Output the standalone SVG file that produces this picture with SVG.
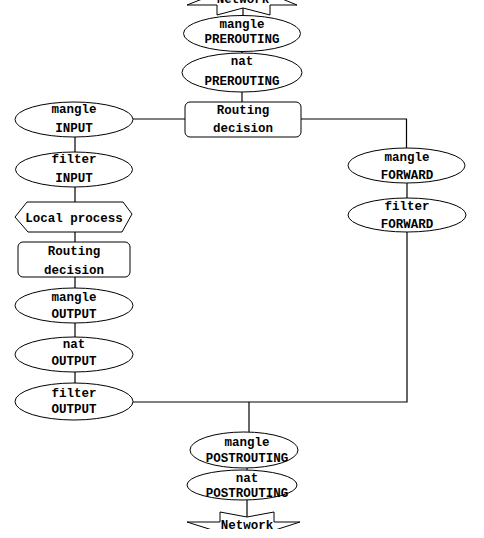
<svg xmlns="http://www.w3.org/2000/svg" width="484" height="538" viewBox="0 0 484 538">
<style>
.n{fill:#fff;stroke:#000;stroke-width:1}
.c{fill:none;stroke:#000;stroke-width:1.2}
text{font-family:"Liberation Mono","Courier New",monospace;font-size:12.5px;font-weight:bold;fill:#000;text-anchor:middle}
</style>
<defs>
<clipPath id="cut"><rect x="0" y="0" width="484" height="529"/></clipPath>
</defs>
<rect x="0" y="0" width="484" height="538" fill="#fff"/>
<g id="connectors">
<path class="c" d="M243 8V15"/>
<path class="c" d="M242 51V53"/>
<path class="c" d="M242 92V102"/>
<path class="c" d="M133 119H185"/>
<path class="c" d="M301 119H406.5V148"/>
<path class="c" d="M75 137V152"/>
<path class="c" d="M75 187V202"/>
<path class="c" d="M75 232V242"/>
<path class="c" d="M75 277V288"/>
<path class="c" d="M75 323V337"/>
<path class="c" d="M75 372V383"/>
<path class="c" d="M407 183V198"/>
<path class="c" d="M407 232V402H133"/>
<path class="c" d="M249 402V432"/>
<path class="c" d="M247 468V470"/>
<path class="c" d="M247 500V517"/>
</g>
<g id="network-in">
<polygon class="n" points="217,5 217,15 243,8 270,15 270,5 297,5 243,-17 187,5"/>
<text x="243" y="3">Network</text>
</g>
<g id="mangle-prerouting">
<ellipse class="n" cx="242" cy="33.5" rx="58.5" ry="18"/>
<text x="242" y="28">mangle</text>
<text x="242" y="43">PREROUTING</text>
</g>
<g id="nat-prerouting">
<ellipse class="n" cx="242" cy="72.5" rx="60" ry="19.5"/>
<text x="242" y="65">nat</text>
<text x="242" y="85">PREROUTING</text>
</g>
<g id="routing-decision-1">
<rect class="n" x="185" y="102" width="116" height="35" rx="5"/>
<text x="243" y="114">Routing</text>
<text x="243" y="132">decision</text>
</g>
<g id="mangle-input">
<ellipse class="n" cx="74" cy="119.5" rx="59" ry="17.5"/>
<text x="74" y="113">mangle</text>
<text x="74" y="132">INPUT</text>
</g>
<g id="filter-input">
<ellipse class="n" cx="74" cy="169.5" rx="58.5" ry="17.5"/>
<text x="74" y="163">filter</text>
<text x="74" y="182">INPUT</text>
</g>
<g id="local-process">
<polygon class="n" points="27,202 123,202 132,214 122,232 28,232 15,217"/>
<text x="74" y="222">Local process</text>
</g>
<g id="routing-decision-2">
<rect class="n" x="18" y="242" width="112" height="35" rx="5"/>
<text x="74" y="255">Routing</text>
<text x="74" y="274">decision</text>
</g>
<g id="mangle-output">
<ellipse class="n" cx="74" cy="305.5" rx="59" ry="17.5"/>
<text x="74" y="301">mangle</text>
<text x="74" y="318">OUTPUT</text>
</g>
<g id="nat-output">
<ellipse class="n" cx="74" cy="354.5" rx="59" ry="17.5"/>
<text x="74" y="348">nat</text>
<text x="74" y="365">OUTPUT</text>
</g>
<g id="filter-output">
<ellipse class="n" cx="74" cy="401.5" rx="59" ry="18.5"/>
<text x="74" y="397">filter</text>
<text x="74" y="413">OUTPUT</text>
</g>
<g id="mangle-forward">
<ellipse class="n" cx="406.5" cy="165.5" rx="58.5" ry="17.5"/>
<text x="407" y="161">mangle</text>
<text x="407" y="179">FORWARD</text>
</g>
<g id="filter-forward">
<ellipse class="n" cx="407" cy="215" rx="59" ry="17"/>
<text x="407" y="210">filter</text>
<text x="407" y="228">FORWARD</text>
</g>
<g id="mangle-postrouting">
<ellipse class="n" cx="244" cy="450" rx="54" ry="18"/>
<text x="247" y="446">mangle</text>
<text x="247" y="462">POSTROUTING</text>
</g>
<g id="nat-postrouting">
<ellipse class="n" cx="242" cy="485" rx="55" ry="15"/>
<text x="247" y="482">nat</text>
<text x="247" y="497">POSTROUTING</text>
</g>
<g id="network-out">
<polygon class="n" clip-path="url(#cut)" points="220,522 220,512 247,517 274,512 274,522 300,522 244,540 187,522"/>
<text x="247" y="529">Network</text>
</g>
</svg>
